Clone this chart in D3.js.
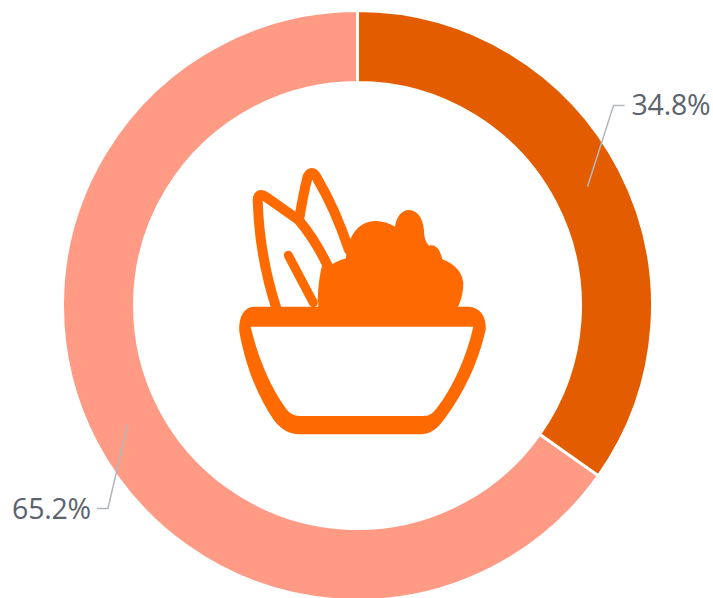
<!DOCTYPE html>
<html>
<head>
<meta charset="utf-8">
<script src="https://cdn.jsdelivr.net/npm/d3@7/dist/d3.min.js"></script>
<style>
  html, body { margin: 0; padding: 0; background: #fff; overflow: hidden; }
  svg { display: block; }
</style>
</head>
<body>
<svg id="chart" width="713" height="598"></svg>
<script>
// Share of the total per segment, clockwise from twelve o'clock
const segments = ["A", "B"];
const shares = [34.8, 65.2];
const labels = ["34.8%", "65.2%"];
const colors = ["#e35d00", "#ff9a85"];

const width = 713, height = 598;
const cx = 357.5, cy = 305.5;
const outerRadius = 295, innerRadius = 223;

const svg = d3.select("#chart");
const root = svg.append("g").attr("transform", `translate(${cx},${cy})`);

const pie = d3.pie().sort(null).value(i => shares[i]);
const arc = d3.arc().innerRadius(innerRadius).outerRadius(outerRadius);
const arcs = pie(d3.range(segments.length));

root.selectAll("path.slice")
  .data(arcs)
  .join("path")
  .attr("class", "slice")
  .attr("d", arc)
  .attr("fill", d => colors[d.data])
  .attr("stroke", "#fff")
  .attr("stroke-width", 3);

// Leader lines start at the ring's centre line and end in a short horizontal run
const leaderRight = { dx: 26, dy: 81, run: 11, gap: 7 };
const leaderLeft = { dx: 19.5, dy: 84, run: 11, gap: 6 };
const leaderFor = d => arc.centroid(d)[0] >= 0 ? leaderRight : leaderLeft;
const side = d => arc.centroid(d)[0] >= 0 ? 1 : -1;

const leader = root.selectAll("g.leader")
  .data(arcs)
  .join("g")
  .attr("class", "leader");

leader.append("path")
  .attr("fill", "none")
  .attr("stroke", "#b3b6ba")
  .attr("stroke-width", 1.5)
  .attr("d", d => {
    const [x, y] = arc.centroid(d);
    const s = side(d), l = leaderFor(d);
    const ex = x + s * l.dx, ey = y - s * l.dy;
    return d3.line()([[x, y], [ex, ey], [ex + s * l.run, ey]]);
  });

leader.append("text")
  .attr("x", d => {
    const l = leaderFor(d);
    return arc.centroid(d)[0] + side(d) * (l.dx + l.run + l.gap);
  })
  .attr("y", d => arc.centroid(d)[1] - side(d) * leaderFor(d).dy - 1)
  .attr("dominant-baseline", "central")
  .attr("text-anchor", d => side(d) > 0 ? "start" : "end")
  .attr("font-family", "'Open Sans', 'Noto Sans', sans-serif")
  .attr("font-size", 28.5)
  .attr("letter-spacing", -0.2)
  .attr("fill", "#5b636d")
  .text(d => labels[d.data]);

// Salad bowl emblem in the middle of the ring, drawn on a 3x grid
const iconColor = "#ff6a00";
const icon = svg.append("g")
  .attr("transform", "translate(220,150) scale(0.3333)");

icon.append("path")
  .attr("fill", iconColor)
  .attr("fill-rule", "evenodd")
  .attr("d", "M100 470 L745 470 C785 472 800 505 797 540 C775 640 730 730 675 805 C650 840 630 853 600 853 L240 853 C205 853 180 835 160 808 C110 735 75 640 58 545 C55 505 70 472 100 470 Z " +
             "M92 530 L760 530 C740 620 700 710 650 775 C635 795 625 798 610 798 L240 798 C220 798 208 790 195 772 C145 700 112 615 92 530 Z");

icon.append("path")
  .attr("fill", iconColor)
  .attr("d", "M292 505 C296 440 302 385 325 352 C340 338 360 330 378 325 C380 285 395 245 425 225 C455 205 495 212 525 230 C530 200 545 180 567 180 C595 180 610 210 612 240 C612 262 618 280 628 287 C650 280 662 305 667 328 C700 340 728 365 730 400 C730 430 722 455 712 475 L700 505 Z");

// Leaves and the midrib are open strokes
const stroked = (d, w) => icon.append("path")
  .attr("fill", "none")
  .attr("stroke", iconColor)
  .attr("stroke-width", w)
  .attr("stroke-linejoin", "round")
  .attr("stroke-linecap", "round")
  .attr("d", d);

stroked("M170 478 C135 370 116 260 113 150 Q115 125 140 142 L236 210 C270 250 300 300 322 345 Q310 390 308 450", 30);
stroked("M238 205 Q250 130 263 80 Q277 55 293 88 Q345 175 387 300", 30);
stroked("M205 316 L280 458", 27);
</script>
</body>
</html>
